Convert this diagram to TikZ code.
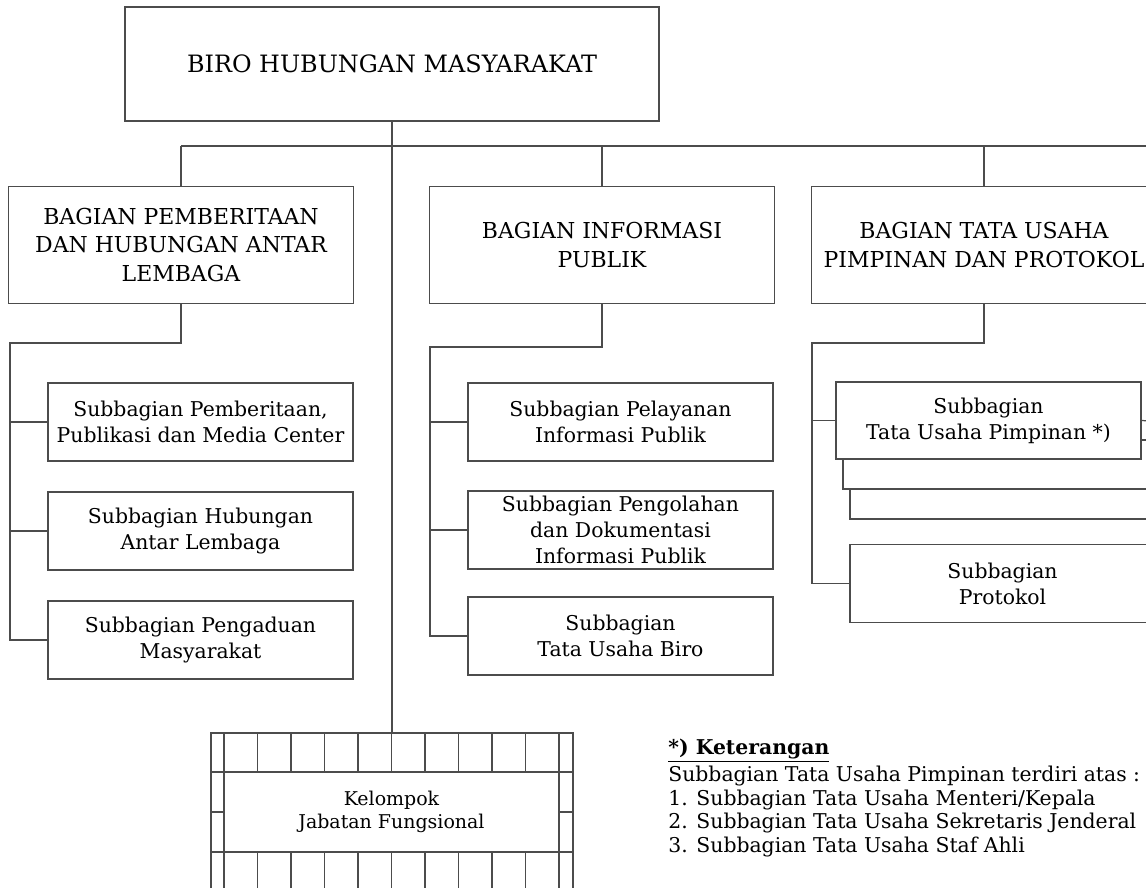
\documentclass[tikz,border=0pt]{standalone}
\usepackage{fontspec}
\setmainfont{DejaVu Serif}
\begin{document}
\begin{tikzpicture}[x=0.02cm,y=-0.02cm]
        \tikzstyle{unit}=[rectangle,draw=black!70,line width=0.7pt,fill=white,align=center,inner sep=0pt]
        \tikzstyle{biro}=[unit,minimum width=10.68cm,minimum height=2.28cm,font=\fontsize{13.6}{16}\selectfont]
        \tikzstyle{bagian}=[unit,minimum width=6.9cm,minimum height=2.34cm,font=\fontsize{12.5}{16.5}\selectfont]
        \tikzstyle{sub}=[unit,minimum width=6.1cm,minimum height=1.56cm,font=\fontsize{11.6}{14.8}\selectfont]
        \tikzstyle{edge}=[draw=black!70,line width=0.7pt]
        \clip (0,0) rectangle (1146,888);
        \fill[white] (0,0) rectangle (1146,888);
        % kepala biro
        \node [biro] (biro) at (392,64) {BIRO HUBUNGAN MASYARAKAT};
        % bagian
        \node [bagian] (bpl) at (181,245) {BAGIAN PEMBERITAAN\\DAN HUBUNGAN ANTAR\\LEMBAGA};
        \node [bagian] (bip) at (602,245) {BAGIAN INFORMASI\\PUBLIK};
        \node [bagian] (btu) at (984,245) {BAGIAN TATA USAHA\\PIMPINAN DAN PROTOKOL};
        \coordinate (bus) at (181,146);
        \coordinate (busend) at (1150,146);
        \path[edge] (bus) -- (busend);
        \path[edge] (bus) -- (bpl.north);
        \path[edge] (bip.north |- bus) -- (bip.north);
        \path[edge] (btu.north |- bus) -- (btu.north);
        % subbagian kiri
        \node [sub] (s11) at (200.5,422) {Subbagian Pemberitaan,\\Publikasi dan Media Center};
        \node [sub] (s12) at (200.5,531) {Subbagian Hubungan\\Antar Lembaga};
        \node [sub] (s13) at (200.5,640) {Subbagian Pengaduan\\Masyarakat};
        \coordinate (c1) at (10,343);
        \path[edge] (bpl.south) |- (c1) |- (s11.west);
        \path[edge] (c1) |- (s12.west);
        \path[edge] (c1) |- (s13.west);
        % subbagian tengah
        \node [sub] (s21) at (620.5,422) {Subbagian Pelayanan\\Informasi Publik};
        \node [sub] (s22) at (620.5,530) {Subbagian Pengolahan\\dan Dokumentasi\\Informasi Publik};
        \node [sub] (s23) at (620.5,636) {Subbagian\\Tata Usaha Biro};
        \coordinate (c2) at (430,347);
        \path[edge] (bip.south) |- (c2) |- (s21.west);
        \path[edge] (c2) |- (s22.west);
        \path[edge] (c2) |- (s23.west);
        % subbagian kanan
        \draw[edge,fill=white] (850,470) rectangle (1160,519);
        \draw[edge,fill=white] (843,440) rectangle (1160,489);
        \node [sub,minimum height=1.54cm] (s31) at (988.5,420.5) {Subbagian\\Tata Usaha Pimpinan *)};
        \node [sub] (s32) at (1002.5,583.5) {Subbagian\\Protokol};
        \coordinate (c3) at (812,343);
        \coordinate (s31r) at (1150,421);
        \path[edge] (btu.south) |- (c3) |- (s31.west);
        \path[edge] (c3) |- (s32.west);
        \path[edge] (s31.east) -- (s31r);
        % kelompok jabatan fungsional
        \node [unit,draw=none,fill=none,minimum width=6.7cm,minimum height=1.6cm,font=\fontsize{10.8}{13.5}\selectfont] (kjf) at (391.5,812) {Kelompok\\Jabatan Fungsional};
        \path[edge] (biro.south) -- (392,733);
        \path[edge] (211,895) -- (211,733) -- (573,733) -- (573,895);
        \path[edge] (224,733) -- (224,895) (559,733) -- (559,895);
        \path[edge] (211,772) -- (573,772) (211,852) -- (573,852);
        \path[edge] (211,812) -- (224,812) (559,812) -- (573,812);
        \foreach \k in {1,...,9} {
          \path[edge] (224+33.5*\k,733) -- (224+33.5*\k,772);
          \path[edge] (224+33.5*\k,852) -- (224+33.5*\k,895);
        }
        % keterangan
        \node [anchor=north west,align=left,inner sep=0pt,font=\fontsize{11.6}{13.4}\selectfont] (ket) at (668,739)
          {\textbf{\underline{*) Keterangan}}\\[2pt]
           Subbagian Tata Usaha Pimpinan terdiri atas :\\
           1. Subbagian Tata Usaha Menteri/Kepala\\
           2. Subbagian Tata Usaha Sekretaris Jenderal\\
           3. Subbagian Tata Usaha Staf Ahli};
      \end{tikzpicture}
\end{document}
